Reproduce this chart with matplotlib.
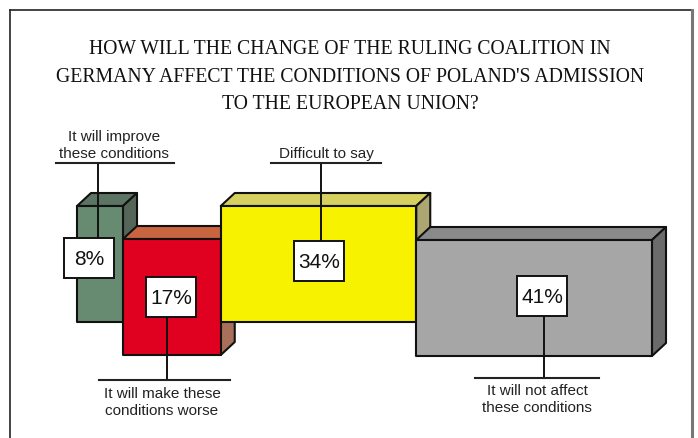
import matplotlib
matplotlib.use("Agg")
import matplotlib.pyplot as plt
from matplotlib.patches import Polygon, Rectangle

# Survey answers and shares (%)
categories = [
    "It will improve\nthese conditions",
    "It will make these\nconditions worse",
    "Difficult to say",
    "It will not affect\nthese conditions",
]
values = [8, 17, 34, 41]
value_labels = [f"{v}%" for v in values]

title = ("HOW WILL THE CHANGE OF THE RULING COALITION IN\n"
         "GERMANY AFFECT THE CONDITIONS OF POLAND'S ADMISSION\n"
         "TO THE EUROPEAN UNION?")

# Face colours per block: (front, top, side)
face_colors = [
    ("#678b70", "#5c7463", "#556659"),
    ("#e00020", "#c8643f", "#a8705a"),
    ("#f7f200", "#d6d060", "#aba672"),
    ("#a6a6a6", "#8a8a8a", "#6b6b6b"),
]

# Layout (pixel units, y downwards)
W, H = 698, 439
x0 = 77.0          # left edge of first block
px_per_pct = 5.75  # block width per percent
block_h = 116
tops = [207, 240, 207, 241]
dx, dy = 14, -13   # depth of the 3D extrusion

# Value boxes, leader lines and category captions
box_centers = [(89, 259), (171, 298), (319, 262), (542, 297)]
box_w, box_h = 50, 40
leader_x = [98, 167, 321, 544]
underline_y = [164, 381, 164, 379]
underline_span = [(56, 174), (99, 230), (271, 381), (475, 599)]
caption_pos = [(114, 161, "bottom"), (162, 387, "top"),
               (326, 161, "bottom"), (537, 384, "top")]

fig = plt.figure(figsize=(W / 100, H / 100), dpi=100)
ax = fig.add_axes([0, 0, 1, 1])
ax.set_xlim(0, W)
ax.set_ylim(H, 0)
ax.axis("off")

# Outer frame
ax.plot([10, 10], [H + 5, 11], color="#222222", lw=1.2, zorder=1)
ax.plot([10, 692], [11, 11], color="#222222", lw=1.2, zorder=1)
ax.plot([692, 692], [11, H + 5], color="#777777", lw=2.2, zorder=1)

# Descender of the caption above the frame
ax.text(337, -6, "g", fontsize=17, family="Liberation Serif",
        ha="center", va="baseline", color="#111111", zorder=1)

ax.text(350, 77, title, fontsize=14.2, family="Liberation Serif",
        ha="center", va="center", linespacing=1.58, color="#111111")

# 3D blocks, widths proportional to the share
left = x0
z = 2
for i, v in enumerate(values):
    w = v * px_per_pct
    t = tops[i]
    b = t + block_h
    r = left + w
    front, top_c, side_c = face_colors[i]
    top_poly = [(left, t), (left + dx, t + dy), (r + dx, t + dy), (r, t)]
    side_poly = [(r, t), (r + dx, t + dy), (r + dx, b + dy), (r, b)]
    front_poly = [(left, t), (r, t), (r, b), (left, b)]
    for poly, c in ((top_poly, top_c), (side_poly, side_c), (front_poly, front)):
        ax.add_patch(Polygon(poly, closed=True, facecolor=c,
                             edgecolor="#111111", lw=1.5, joinstyle="round",
                             zorder=z))
    z += 1
    left = r

# Annotations
for i, lab in enumerate(value_labels):
    cx, cy = box_centers[i]
    uy = underline_y[i]
    if uy < cy:
        ax.plot([leader_x[i], leader_x[i]], [uy, cy - box_h / 2],
                color="#111111", lw=1.4, zorder=20)
    else:
        ax.plot([leader_x[i], leader_x[i]], [cy + box_h / 2, uy],
                color="#111111", lw=1.4, zorder=20)
    ax.plot(underline_span[i], [uy, uy], color="#222222", lw=1.5, zorder=20)
    ax.add_patch(Rectangle((cx - box_w / 2, cy - box_h / 2), box_w, box_h,
                           facecolor="white", edgecolor="#111111", lw=1.4,
                           zorder=21))
    ax.text(cx, cy + 1, lab, fontsize=15, family="Liberation Sans",
            ha="center", va="center", color="#111111", zorder=22)
    tx, ty, va = caption_pos[i]
    ax.text(tx, ty, categories[i], fontsize=11, family="Liberation Sans",
            ha="center", va=va, linespacing=1.3, color="#222222", zorder=22)

fig.savefig("out.png", dpi=100)
